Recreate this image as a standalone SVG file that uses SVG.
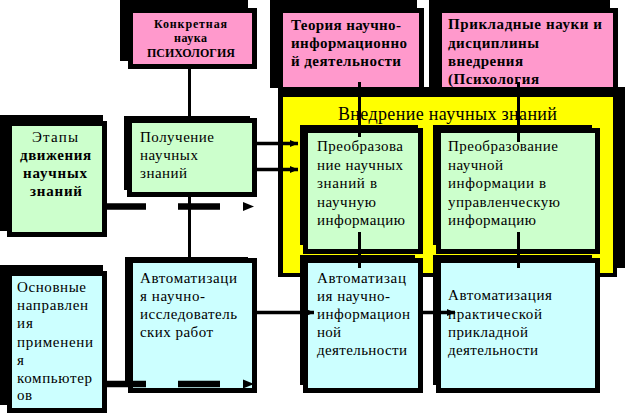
<svg xmlns="http://www.w3.org/2000/svg" width="625" height="415" viewBox="0 0 625 415">
<style>
.sh{fill:#000}
.bx{stroke:#000;stroke-width:5}
.pink{fill:#ff99cc}
.green{fill:#ccffcc}
.cyan{fill:#ccffff}
.yel{fill:#ffff00}
text{font-family:'Liberation Serif','DejaVu Serif',serif;fill:#000}
.b{font-weight:bold;font-size:15px}
.bs{font-weight:bold;font-size:12px}
.r{font-size:15px}
.t{font-size:18px}
.ln{stroke:#000;stroke-width:3;fill:none}
.ar{stroke:#000;stroke-width:3.5;fill:none}
.ds{stroke:#000;stroke-width:6.5;fill:none;stroke-dasharray:39 32 42 100}
.hd{fill:#000}
</style>
<defs>
<marker id="ah" markerUnits="userSpaceOnUse" markerWidth="9" markerHeight="8" refX="8" refY="4" orient="auto">
<path d="M0,0.5 L8,4 L0,7.5 z" fill="#000"/>
</marker>
</defs>
<rect width="625" height="415" fill="#fff"/>
<g id="nodes" font-family="Liberation Serif, DejaVu Serif, serif">
<g id="n-psych">
<rect class="sh" x="120" y="0" width="128" height="61"/>
<rect class="bx pink" x="130.5" y="10.5" width="124" height="56"/>
<text class="bs" x="154" y="27.5" textLength="73" lengthAdjust="spacing">Конкретная</text>
<text class="bs" x="174" y="42" textLength="33" lengthAdjust="spacing">наука</text>
<text class="bs" x="147" y="57" textLength="88" lengthAdjust="spacing">ПСИХОЛОГИЯ</text>
</g>
<g id="n-theory">
<rect class="sh" x="270" y="0" width="147" height="88"/>
<rect class="bx pink" x="280.5" y="10.5" width="141" height="82"/>
<text class="b" x="291" y="30" textLength="110" lengthAdjust="spacing">Теория научно-</text>
<text class="b" x="291" y="48" textLength="116" lengthAdjust="spacing">информационно</text>
<text class="b" x="291" y="66" textLength="110" lengthAdjust="spacing">й деятельности</text>
</g>
<g id="n-applied">
<rect class="sh" x="429" y="0" width="181" height="88"/>
<rect class="bx pink" x="439.5" y="10.5" width="176" height="82"/>
<text class="b" x="448" y="29" textLength="154" lengthAdjust="spacing">Прикладные науки и</text>
<text class="b" x="448" y="48" textLength="91" lengthAdjust="spacing">дисциплины</text>
<text class="b" x="448" y="66" textLength="75" lengthAdjust="spacing">внедрения</text>
<text class="b" x="448" y="84" textLength="91" lengthAdjust="spacing">(Психология</text>
</g>
<g id="n-implement">
<rect class="sh" x="278" y="87" width="347" height="181"/>
<rect class="sh" x="278" y="92" width="339" height="185"/>
<rect class="yel" x="283" y="97" width="330" height="176"/>
<text class="t" x="338" y="120" textLength="219" lengthAdjust="spacing">Внедрение научных знаний</text>
</g>
<g id="n-transform1">
<rect class="sh" x="300" y="125" width="118" height="120"/>
<rect class="bx green" x="305.5" y="130.5" width="115" height="121"/>
<text class="r" x="317" y="150.5" textLength="86" lengthAdjust="spacing">Преобразова</text>
<text class="r" x="317" y="169.5" textLength="86" lengthAdjust="spacing">ние научных</text>
<text class="r" x="317" y="188" textLength="60" lengthAdjust="spacing">знаний в</text>
<text class="r" x="317" y="206.5" textLength="59" lengthAdjust="spacing">научную</text>
<text class="r" x="317" y="225" textLength="88" lengthAdjust="spacing">информацию</text>
</g>
<g id="n-transform2">
<rect class="sh" x="433" y="125" width="159" height="120"/>
<rect class="bx green" x="438.5" y="130.5" width="159" height="121"/>
<text class="r" x="448" y="150.5" textLength="110" lengthAdjust="spacing">Преобразование</text>
<text class="r" x="448" y="169.5" textLength="55" lengthAdjust="spacing">научной</text>
<text class="r" x="448" y="188" textLength="98" lengthAdjust="spacing">информации в</text>
<text class="r" x="448" y="206.5" textLength="112" lengthAdjust="spacing">управленческую</text>
<text class="r" x="448" y="225" textLength="88" lengthAdjust="spacing">информацию</text>
</g>
<g id="n-auto-info">
<rect class="sh" x="300" y="255" width="115" height="130"/>
<rect class="bx cyan" x="305.5" y="260.5" width="115" height="130"/>
<text class="r" x="317" y="282.7" textLength="89" lengthAdjust="spacing">Автоматизац</text>
<text class="r" x="317" y="300.5" textLength="73" lengthAdjust="spacing">ия научно-</text>
<text class="r" x="317" y="318.5" textLength="93" lengthAdjust="spacing">информацион</text>
<text class="r" x="317" y="336.7" textLength="24" lengthAdjust="spacing">ной</text>
<text class="r" x="317" y="355" textLength="90" lengthAdjust="spacing">деятельности</text>
</g>
<g id="n-auto-applied">
<rect class="sh" x="433" y="255" width="159" height="130"/>
<rect class="bx cyan" x="438.5" y="260.5" width="159" height="130"/>
<text class="r" x="448" y="300" textLength="104" lengthAdjust="spacing">Автоматизация</text>
<text class="r" x="448" y="318.5" textLength="94" lengthAdjust="spacing">практической</text>
<text class="r" x="448" y="336.7" textLength="80" lengthAdjust="spacing">прикладной</text>
<text class="r" x="448" y="355" textLength="90" lengthAdjust="spacing">деятельности</text>
</g>
<g id="n-obtain">
<rect class="sh" x="124" y="116" width="126" height="74"/>
<rect class="bx green" x="129.5" y="120.5" width="125" height="74"/>
<text class="r" x="140" y="141.7" textLength="74" lengthAdjust="spacing">Получение</text>
<text class="r" x="140" y="160" textLength="58" lengthAdjust="spacing">научных</text>
<text class="r" x="140" y="178" textLength="47" lengthAdjust="spacing">знаний</text>
</g>
<g id="n-auto-research">
<rect class="sh" x="125" y="257" width="123" height="128"/>
<rect class="bx cyan" x="130.5" y="260.5" width="124" height="130"/>
<text class="r" x="140" y="282.7" textLength="97" lengthAdjust="spacing">Автоматизаци</text>
<text class="r" x="140" y="300.7" textLength="65" lengthAdjust="spacing">я научно-</text>
<text class="r" x="140" y="318.5" textLength="97" lengthAdjust="spacing">исследователь</text>
<text class="r" x="140" y="336.7" textLength="73" lengthAdjust="spacing">ских работ</text>
</g>
<g id="n-stages">
<rect class="sh" x="0" y="115" width="103" height="116"/>
<rect class="bx green" x="9.5" y="123.5" width="95" height="111"/>
<text class="r" x="32" y="141.7" textLength="46" lengthAdjust="spacing">Этапы</text>
<text class="b" x="20" y="160" textLength="71" lengthAdjust="spacing">движения</text>
<text class="b" x="23" y="178" textLength="64" lengthAdjust="spacing">научных</text>
<text class="b" x="30" y="196" textLength="52" lengthAdjust="spacing">знаний</text>
</g>
<g id="n-computers">
<rect class="sh" x="0" y="265" width="103" height="140"/>
<rect class="bx cyan" x="9.5" y="273.5" width="95" height="137"/>
<text class="r" x="17" y="291.7" textLength="69" lengthAdjust="spacing">Основные</text>
<text class="r" x="17" y="310" textLength="71" lengthAdjust="spacing">направлен</text>
<text class="r" x="17" y="328" textLength="16" lengthAdjust="spacing">ия</text>
<text class="r" x="17" y="346.7" textLength="76" lengthAdjust="spacing">применени</text>
<text class="r" x="17" y="365">я</text>
<text class="r" x="17" y="382.7" textLength="75" lengthAdjust="spacing">компьютер</text>
<text class="r" x="17" y="400" textLength="15" lengthAdjust="spacing">ов</text>
</g>
</g>
<g id="connectors">
<path class="ln" d="M189.5,69 V118"/>
<path class="ln" d="M189.5,192 V258"/>
<path class="ln" d="M359.5,82 V137"/>
<path class="ln" d="M518.5,82 V142"/>
<path class="ln" d="M359.5,232 V268"/>
<path class="ln" d="M518.5,232 V268"/>
<path class="ar" d="M257,143.5 H298" marker-end="url(#ah)"/>
<path class="ar" d="M257,169.5 H298" marker-end="url(#ah)"/>
<path class="ar" d="M257,312.5 H314" marker-end="url(#ah)"/>
<path class="ar" d="M423,312.5 H455" marker-end="url(#ah)"/>
<path class="ds" d="M107,206.5 H220"/>
<polygon class="hd" points="243,202 254,206.5 243,211"/>
<path class="ds" d="M107,384 H220"/>
<polygon class="hd" points="243,379.5 254,384 243,388.5"/>
</g>
</svg>
